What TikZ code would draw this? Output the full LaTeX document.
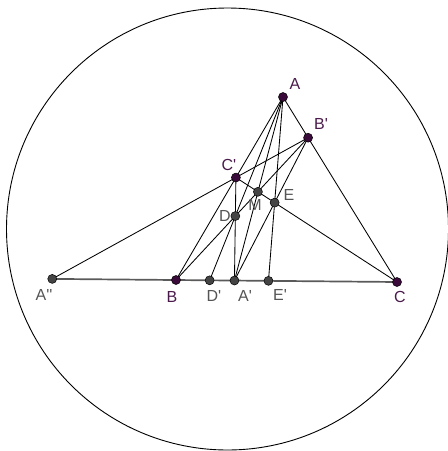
\documentclass[tikz,border=0pt]{standalone}
\usepackage{fontspec}
\setmainfont{Liberation Sans}[Ligatures=TeXOff]
\usetikzlibrary{calc}
\definecolor{ptpurple}{HTML}{3A0A3A}
\definecolor{lbpurple}{HTML}{4A1A4A}
\definecolor{ptgray}{HTML}{444444}
\definecolor{lbgray}{HTML}{555555}
\definecolor{basegray}{HTML}{5A5A5A}
\newcommand{\labsize}{\fontsize{16pt}{18pt}\selectfont}
\begin{document}
\begin{tikzpicture}[x=1pt,y=-1pt,
  seg/.style={draw=black,line width=0.85pt},
  basel/.style={draw=basegray,line width=1.7pt},
  ppt/.style={circle,fill=ptpurple,draw=black,line width=0.5pt,inner sep=0pt,minimum size=9pt},
  gpt/.style={circle,fill=ptgray,draw=black,line width=0.5pt,inner sep=0pt,minimum size=9pt},
  plab/.style={text=lbpurple,inner sep=0pt,font=\labsize},
  glab/.style={text=lbgray,inner sep=0pt,font=\labsize}]
\useasboundingbox (0,0) rectangle (448,451);
% base points
\coordinate (pA) at (283,97);
\coordinate (pB) at (176,280);
\coordinate (pC) at (397,282);
\coordinate (pBp) at ($(pA)!0.22!(pC)$);
\coordinate (pCp) at ($(pA)!0.44!(pB)$);
\coordinate (pM) at (intersection of pB--pBp and pC--pCp);
\coordinate (pAp) at (intersection of pA--pM and pB--pC);
\coordinate (pD) at (intersection of pB--pBp and pAp--pCp);
\coordinate (pE) at (intersection of pC--pCp and pAp--pBp);
\coordinate (pDp) at (intersection of pA--pD and pB--pC);
\coordinate (pEp) at (intersection of pA--pE and pB--pC);
\coordinate (pApp) at (intersection of pBp--pCp and pB--pC);
% circle
\node[circle,draw=black,line width=0.9pt,minimum size=442pt,inner sep=0pt] (circ) at (227.5,229) {};
% lines
\path[basel] (pApp) -- (pC);
\path[seg] (pA) -- (pB);
\path[seg] (pA) -- (pC);
\path[seg] (pA) -- (pAp);
\path[seg] (pA) -- (pDp);
\path[seg] (pA) -- (pEp);
\path[seg] (pB) -- (pBp);
\path[seg] (pC) -- (pCp);
\path[seg] (pApp) -- (pBp);
\path[seg] (pCp) -- (pAp);
\path[seg] (pBp) -- (pAp);
% points
\node[ppt] (A) at (pA) {};
\node[ppt] (B) at (pB) {};
\node[ppt] (C) at (pC) {};
\node[ppt] (Bp) at (pBp) {};
\node[ppt] (Cp) at (pCp) {};
\node[gpt] (M) at (pM) {};
\node[gpt] (Ap) at (pAp) {};
\node[gpt] (D) at (pD) {};
\node[gpt] (E) at (pE) {};
\node[gpt] (Dp) at (pDp) {};
\node[gpt] (Ep) at (pEp) {};
\node[gpt] (App) at (pApp) {};
% labels
\node[plab] (lA) at (295,84) {A};
\node[plab] (lBp) at (321,124) {B'};
\node[plab] (lCp) at (229,165) {C'};
\node[glab] (lM) at (255,205) {M};
\node[glab] (lE) at (289,195) {E};
\node[glab] (lD) at (225,216) {D};
\node[glab] (lApp) at (44,295) {A''};
\node[plab] (lB) at (172,297) {B};
\node[glab] (lDp) at (214,296) {D'};
\node[glab] (lAp) at (245,296) {A'};
\node[glab] (lEp) at (280,295) {E'};
\node[plab] (lC) at (400,297) {C};
\end{tikzpicture}
\end{document}
